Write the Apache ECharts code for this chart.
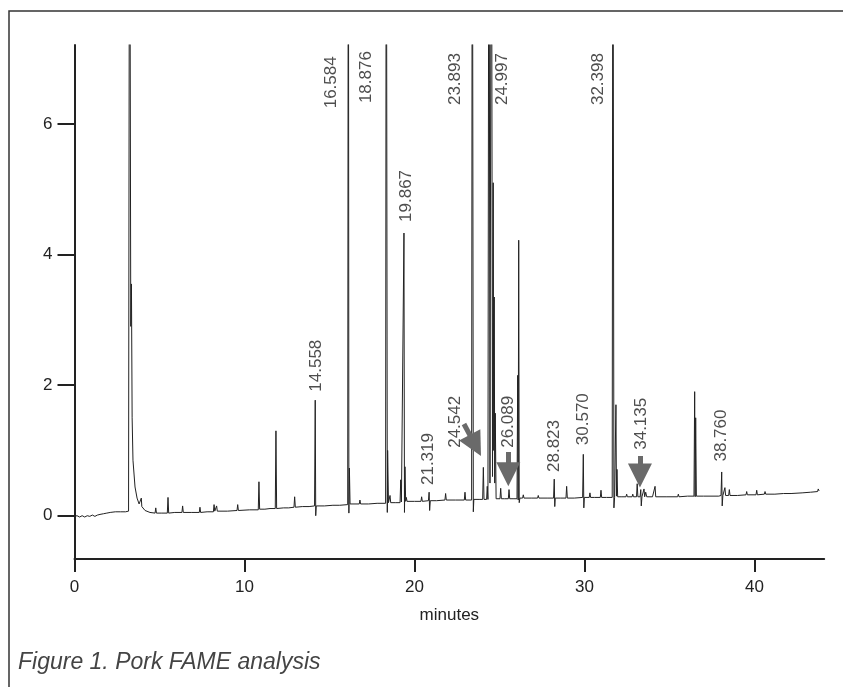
<!DOCTYPE html>
<html>
<head>
<meta charset="utf-8">
<script src="https://cdn.jsdelivr.net/npm/echarts@6/dist/echarts.min.js"></script>
<style>
html,body{margin:0;padding:0;background:#fff;}
#chart{width:843px;height:687px;}
</style>
</head>
<body>
<div id="chart"></div>
<script>
// ---- data ----
const xTicks = [0, 10, 20, 30, 40];
const yTicks = [0, 2, 4, 6];
const xTitle = 'minutes';
const caption = 'Figure 1. Pork FAME analysis';

// chromatogram trace: [minutes, signal]
const trace = [
  [0.00,-0.01],[0.15,0.00],[0.30,-0.02],[0.45,0.00],[0.60,-0.02],[0.75,0.00],[0.90,-0.01],
  [1.05,0.01],[1.20,-0.01],[1.35,0.01],[1.50,0.02],[1.70,0.03],[1.90,0.04],[2.10,0.05],
  [2.40,0.06],[2.70,0.06],[3.00,0.06],[3.18,0.07],[3.24,12.0],[3.28,12.0],[3.31,2.9],[3.35,3.55],
  [3.39,1.5],[3.44,0.85],[3.56,0.44],[3.68,0.27],[3.80,0.18],[3.90,0.16],[3.93,0.27],
  [3.96,0.14],[4.15,0.08],[4.44,0.05],[4.74,0.04],[4.78,0.12],[4.82,0.04],[5.10,0.04],
  [5.46,0.04],[5.50,0.28],[5.54,0.04],[5.90,0.05],[6.32,0.05],[6.36,0.15],[6.40,0.05],
  [6.90,0.05],[7.34,0.05],[7.38,0.13],[7.42,0.05],[7.80,0.06],[8.17,0.06],[8.21,0.17],
  [8.25,0.07],[8.32,0.07],[8.36,0.15],[8.40,0.07],[9.00,0.07],[9.56,0.08],[9.60,0.17],
  [9.64,0.08],[10.30,0.09],[10.81,0.09],[10.85,0.52],[10.89,0.10],[11.20,0.10],[11.50,0.11],
  [11.81,0.11],[11.85,1.30],[11.89,0.11],[12.30,0.12],[12.60,0.12],[12.91,0.13],[12.95,0.29],
  [12.99,0.13],[13.40,0.14],[13.80,0.14],[14.12,0.15],[14.16,1.77],[14.19,0.00],[14.22,0.15],
  [14.70,0.15],[15.20,0.16],[15.60,0.16],[16.07,0.17],[16.11,12.0],[16.14,0.04],[16.17,0.73],
  [16.21,0.18],[16.50,0.18],[16.75,0.18],[16.79,0.24],[16.83,0.18],[17.30,0.18],[17.80,0.19],
  [18.30,0.19],[18.34,12.0],[18.38,12.0],[18.40,0.05],[18.42,1.0],[18.47,0.20],[18.52,0.20],[18.56,0.31],
  [18.60,0.20],[18.90,0.20],[19.15,0.20],[19.19,0.55],[19.23,0.21],[19.33,0.21],[19.38,4.33],
  [19.41,0.05],[19.44,0.75],[19.48,0.22],[19.52,0.28],[19.56,0.22],[20.00,0.22],[20.38,0.22],
  [20.42,0.29],[20.46,0.22],[20.82,0.23],[20.86,0.36],[20.89,0.08],[20.93,0.23],[21.30,0.23],
  [21.79,0.24],[21.83,0.34],[21.87,0.24],[22.40,0.24],[22.93,0.24],[22.97,0.36],[23.01,0.24],
  [23.36,0.24],[23.40,12.0],[23.44,12.0],[23.46,0.06],[23.49,0.25],[23.80,0.25],[24.01,0.25],[24.05,0.74],
  [24.09,0.25],[24.24,0.25],[24.28,0.45],[24.32,0.25],[24.38,12.0],[24.44,0.5],[24.52,12.0],
  [24.59,0.6],[24.63,5.1],[24.66,1.0],[24.69,3.35],[24.72,0.5],[24.75,1.57],[24.80,0.26],
  [24.90,0.26],[25.03,0.26],[25.07,0.42],[25.11,0.26],[25.30,0.26],[25.52,0.26],[25.56,0.40],
  [25.60,0.26],[25.85,0.26],[26.03,0.26],[26.07,2.15],[26.10,0.24],[26.13,4.22],[26.16,0.20],
  [26.20,0.27],[26.36,0.27],[26.40,0.32],[26.44,0.27],[26.90,0.27],[27.24,0.27],[27.28,0.31],
  [27.32,0.27],[27.80,0.27],[28.18,0.27],[28.22,0.56],[28.25,0.14],[28.28,0.27],[28.60,0.27],
  [28.91,0.27],[28.95,0.45],[28.99,0.27],[29.40,0.27],[29.89,0.28],[29.93,0.94],[29.96,0.12],
  [29.99,0.28],[30.28,0.28],[30.32,0.35],[30.36,0.28],[30.60,0.28],[30.93,0.28],[30.97,0.39],
  [31.01,0.28],[31.30,0.28],[31.63,0.28],[31.67,12.0],[31.71,12.0],[31.73,0.12],[31.77,0.28],[31.82,0.28],
  [31.85,1.70],[31.88,0.30],[31.91,0.71],[31.95,0.29],[32.20,0.29],[32.44,0.29],[32.48,0.33],
  [32.52,0.29],[32.80,0.29],[32.84,0.33],[32.88,0.29],[33.06,0.29],[33.10,0.49],[33.14,0.29],
  [33.27,0.29],[33.31,0.40],[33.34,0.15],[33.38,0.29],[33.46,0.29],[33.50,0.41],[33.54,0.29],
  [33.60,0.36],[33.66,0.29],[34.00,0.29],[34.11,0.29],[34.15,0.45],[34.19,0.29],[34.80,0.29],
  [35.48,0.29],[35.52,0.33],[35.56,0.29],[36.06,0.30],[36.10,0.33],[36.14,0.30],[36.44,0.30],
  [36.48,1.90],[36.51,0.29],[36.54,1.50],[36.58,0.30],[37.00,0.30],[37.50,0.30],[37.54,0.33],
  [37.58,0.30],[37.90,0.30],[38.03,0.31],[38.07,0.67],[38.10,0.15],[38.14,0.31],[38.22,0.31],
  [38.26,0.43],[38.30,0.31],[38.40,0.31],[38.48,0.31],[38.52,0.40],[38.56,0.31],[39.00,0.31],
  [39.50,0.32],[39.54,0.37],[39.58,0.32],[40.09,0.32],[40.13,0.39],[40.17,0.32],[40.58,0.33],
  [40.62,0.37],[40.66,0.33],[41.20,0.33],[41.70,0.34],[42.15,0.34],[42.19,0.37],[42.23,0.34],
  [42.80,0.35],[43.30,0.36],[43.71,0.37],[43.75,0.41],[43.80,0.38]
];

// peak annotations: retention-time text and where the text sits (axis units)
const peakLabels = ['14.558','16.584','18.876','19.867','21.319','23.893','24.542','24.997','26.089','28.823','30.570','32.398','34.135','38.760'];
const labelX = [14.21, 15.13, 17.15, 19.54, 20.81, 22.38, 22.38, 25.19, 25.52, 28.21, 29.93, 30.81, 33.36, 38.07];
const labelY = [1.90, 6.24, 6.32, 4.50, 0.47, 6.29, 1.04, 6.29, 1.04, 0.67, 1.08, 6.29, 1.01, 0.83];

// arrows: [startX, startY, endX, endY] in axis units
const arrows = [
  [22.91, 1.405, 23.58, 1.077],
  [25.52, 0.975, 25.52, 0.636],
  [33.26, 0.914, 33.26, 0.616]
];

// ---- chart ----
const FONT = "'Liberation Sans', Arial, Helvetica, sans-serif";
const chart = echarts.init(document.getElementById('chart'), null, {renderer: 'canvas'});
chart.setOption({
  animation: false,
  backgroundColor: '#ffffff',
  textStyle: {fontFamily: FONT},
  grid: {left: 74.5, right: 18.8, top: 45, bottom: 128, containLabel: false},
  xAxis: {
    type: 'value', min: 0, max: 44.1,
    name: xTitle, nameLocation: 'middle', nameGap: 48,
    nameTextStyle: {fontSize: 17, color: '#222', fontFamily: FONT},
    axisLine: {show: true, onZero: false, lineStyle: {color: '#222', width: 2}},
    axisTick: {show: true, length: 13, lineStyle: {color: '#222', width: 2}, customValues: xTicks},
    axisLabel: {fontSize: 17, color: '#222', margin: 20, fontFamily: FONT, customValues: xTicks},
    splitLine: {show: false}
  },
  yAxis: {
    type: 'value', min: -0.663, max: 7.21,
    axisLine: {show: true, onZero: false, lineStyle: {color: '#222', width: 2}},
    axisTick: {show: true, length: 17, lineStyle: {color: '#222', width: 2}, customValues: yTicks},
    axisLabel: {fontSize: 17, color: '#222', margin: 22, fontFamily: FONT, customValues: yTicks},
    splitLine: {show: false}
  },
  graphic: [
    {type: 'rect', shape: {x: 9, y: 11, width: 860, height: 700},
     style: {fill: 'none', stroke: '#333', lineWidth: 1.5}, silent: true},
    {type: 'text', x: 18, y: 651,
     style: {text: caption, font: "italic 23px 'Liberation Sans', Arial, sans-serif", fill: '#444'}}
  ],
  series: [
    {
      type: 'line', data: trace, showSymbol: false, clip: true,
      lineStyle: {color: '#222', width: 1}, z: 2
    },
    {
      type: 'scatter', symbolSize: 0, z: 3, silent: true,
      data: labelX.map((x, i) => ({value: [x, labelY[i]], name: peakLabels[i]})),
      label: {
        show: true, formatter: p => p.name, position: 'inside', rotate: 90,
        align: 'left', verticalAlign: 'middle',
        fontSize: 17, color: '#222', fontFamily: FONT
      }
    },
    {
      type: 'lines', coordinateSystem: 'cartesian2d', z: 4, silent: true,
      symbol: ['none', 'triangle'], symbolSize: [15, 24],
      lineStyle: {color: '#6a6a6a', width: 5, opacity: 1},
      itemStyle: {color: '#6a6a6a'},
      data: arrows.map(a => ({coords: [[a[0], a[1]], [a[2], a[3]]]}))
    }
  ]
});
</script>
</body>
</html>
